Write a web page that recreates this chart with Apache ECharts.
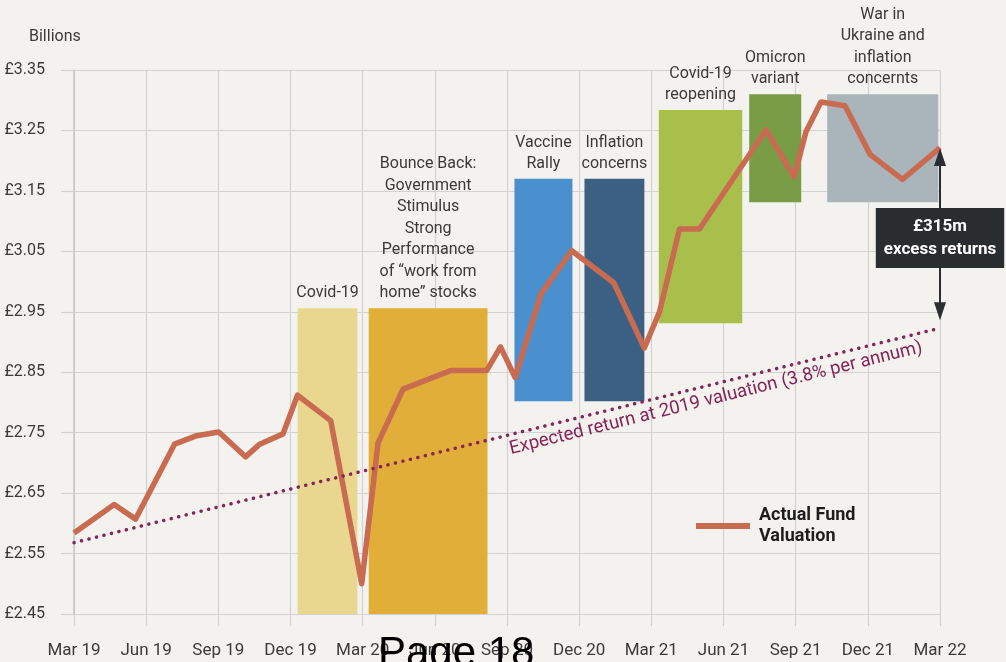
<!DOCTYPE html>
<html lang="en">
  <head>
    <meta charset="UTF-8" />
    <title>Fund valuation vs expected return</title>
    <script src="https://cdn.jsdelivr.net/npm/echarts@6.0.0/dist/echarts.min.js"></script>
    <style>
      html, body { margin: 0; padding: 0; background: #f3f2ee; }
    </style>
  </head>
  <body>
    <div id="main" style="width: 1006px; height: 662px"></div>

    <script type="text/javascript">
      // x is measured in months from Mar 19
      const tickLabels = ['Mar 19', 'Jun 19', 'Sep 19', 'Dec 19', 'Mar 20', 'Jun 20', 'Sep 20',
        'Dec 20', 'Mar 21', 'Jun 21', 'Sep 21', 'Dec 21', 'Mar 22'];

      const fundMonths = [0, 1.67, 2.56, 4.18, 5.1, 6.02, 7.13, 7.72, 8.69, 9.29, 10.67, 11.96,
        12.64, 13.68, 15.68, 17.16, 17.73, 18.34, 19.42, 20.69, 22.44, 23.71, 24.34, 25.17, 26.0,
        28.77, 29.94, 30.43, 31.05, 32.05, 33.1, 34.44, 36];
      const fundValues = [2.584, 2.631, 2.607, 2.731, 2.745, 2.751, 2.71, 2.731, 2.748, 2.812,
        2.77, 2.5, 2.733, 2.822, 2.853, 2.853, 2.892, 2.841, 2.98, 3.051, 2.998, 2.89, 2.95,
        3.087, 3.087, 3.251, 3.173, 3.248, 3.297, 3.291, 3.21, 3.169, 3.221];

      // expected return line (3.8% per annum from 2019 valuation)
      const expectedMonths = [0, 36];
      const expectedValues = [2.568, 2.923];

      // event bands
      const eventLabels = ['Covid-19',
        'Bounce Back:\nGovernment\nStimulus\nStrong\nPerformance\nof “work from\nhome” stocks',
        'Vaccine\nRally', 'Inflation\nconcerns', 'Covid-19\nreopening', 'Omicron\nvariant',
        'War in\nUkraine and\ninflation\nconcernts'];
      const eventStart = [9.3, 12.25, 18.31, 21.22, 24.31, 28.07, 31.31];
      const eventEnd = [11.78, 17.19, 20.72, 23.71, 27.78, 30.23, 35.93];
      const eventLow = [2.45, 2.45, 2.802, 2.802, 2.931, 3.131, 3.131];
      const eventHigh = [2.956, 2.956, 3.17, 3.17, 3.284, 3.31, 3.31];
      const eventColors = ['#e9d78f', '#e2ae3a', '#4a8fce', '#3b6083', '#a8c04b', '#789c45', '#aab5bb'];

      const excessText = '£315m\nexcess returns';

      const textColor = '#3a3a3a';
      const gridColor = '#d2d2d2';
      const fundColor = '#c96b50';
      const expectedColor = '#862457';

      const fundEnd = fundValues[fundValues.length - 1];
      const expectedEnd = expectedValues[expectedValues.length - 1];

      const chart = echarts.init(document.getElementById('main'), null, { width: 1006, height: 662 });

      const option = {
        backgroundColor: '#f3f2ee',
        animation: false,
        textStyle: { fontFamily: 'Roboto' },
        grid: { left: 74, right: 66, top: 70, bottom: 48 },
        legend: {
          data: ['Actual Fund Valuation'],
          left: 691,
          top: 500,
          icon: 'rect',
          itemWidth: 54,
          itemHeight: 6,
          formatter: () => 'Actual Fund\nValuation',
          textStyle: {
            fontSize: 18,
            fontWeight: 'bold',
            color: '#1d1d1d',
            lineHeight: 21,
            padding: [0, 0, 0, 4],
          },
        },
        xAxis: {
          type: 'value',
          min: 0,
          max: 36,
          interval: 3,
          axisLine: { show: true, lineStyle: { color: gridColor, width: 1.2 } },
          axisTick: { show: true, length: 12, lineStyle: { color: gridColor, width: 1.2 } },
          splitLine: { show: true, lineStyle: { color: gridColor, width: 1.2 } },
          axisLabel: {
            fontSize: 17,
            color: textColor,
            margin: 28,
            formatter: (v) => tickLabels[Math.round(v / 3)],
          },
        },
        yAxis: {
          type: 'value',
          min: 2.45,
          max: 3.35,
          interval: 0.1,
          axisLine: { show: true, lineStyle: { color: '#c6c6c6', width: 1.5 } },
          axisTick: { show: true, length: 13, lineStyle: { color: gridColor, width: 1.2 } },
          splitLine: { show: true, lineStyle: { color: gridColor, width: 1.2 } },
          axisLabel: {
            fontSize: 16,
            color: textColor,
            margin: 29,
            formatter: (v) => '£' + v.toFixed(2),
          },
        },
        graphic: [
          {
            type: 'text',
            left: 29,
            top: 29,
            style: { text: 'Billions', fontSize: 16, fill: textColor, fontFamily: 'Roboto' },
          },
          {
            type: 'text',
            left: 378,
            top: 633,
            z: 100,
            style: { text: 'Page 18', fontSize: 42, fill: '#000', fontFamily: 'Liberation Sans' },
          },
        ],
        series: [
          {
            name: 'Events',
            type: 'line',
            data: [],
            markArea: {
              silent: true,
              label: {
                show: true,
                position: 'top',
                distance: 4,
                fontSize: 16,
                lineHeight: 21.5,
                color: textColor,
                align: 'center',
              },
              data: eventLabels.map((name, i) => [
                { name, coord: [eventStart[i], eventLow[i]], itemStyle: { color: eventColors[i], opacity: 1 } },
                { coord: [eventEnd[i], eventHigh[i]] },
              ]),
            },
          },
          {
            name: 'Expected return',
            type: 'line',
            data: [],
            markLine: {
              silent: true,
              symbol: 'none',
              lineStyle: { color: expectedColor, width: 3.5, type: [0.1, 7.6], cap: 'round' },
              label: {
                show: true,
                position: 'insideEndBottom',
                distance: [22, 5],
                fontSize: 18.5,
                color: expectedColor,
                formatter: 'Expected return at 2019 valuation (3.8% per annum)',
              },
              data: [[
                { coord: [expectedMonths[0], expectedValues[0]] },
                { coord: [expectedMonths[1], expectedValues[1]] },
              ]],
            },
          },
          {
            name: 'Actual Fund Valuation',
            type: 'line',
            color: fundColor,
            symbol: 'none',
            lineStyle: { width: 5.5, color: fundColor, join: 'round' },
            z: 3,
            data: fundMonths.map((m, i) => [m, fundValues[i]]),
          },
          {
            name: 'Excess',
            type: 'scatter',
            z: 10,
            symbolSize: 1,
            itemStyle: { color: 'rgba(0,0,0,0)', opacity: 1 },
            data: [[36, (fundEnd + expectedEnd) / 2]],
            label: {
              show: true,
              position: 'inside',
              formatter: excessText,
              color: '#ffffff',
              opacity: 1,
              fontSize: 17,
              fontWeight: 'bold',
              lineHeight: 23,
              align: 'center',
              backgroundColor: '#2a2d30',
              padding: [7, 8, 7, 8],
            },
            markLine: {
              silent: true,
              z: 6,
              symbol: ['triangle', 'triangle'],
              symbolSize: [12, 18],
              lineStyle: { color: '#2b2e31', width: 2, type: 'solid' },
              label: { show: false },
              data: [[
                { coord: [36, fundEnd - 0.015] },
                { coord: [36, expectedEnd + 0.028] },
              ]],
            },
          },
        ],
      };

      chart.setOption(option);
    </script>
  </body>
</html>
